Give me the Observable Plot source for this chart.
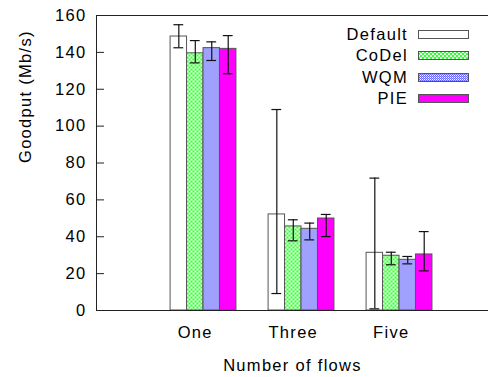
<!DOCTYPE html>
<html>
<head>
<meta charset="utf-8">
<script src="https://cdn.jsdelivr.net/npm/d3@7"></script>
<script src="https://cdn.jsdelivr.net/npm/@observablehq/plot@0.6"></script>
<style>
  body { margin: 0; background: white; }
  #wrap { position: relative; width: 488px; height: 377px; font-family: "Liberation Sans", Arial, sans-serif; }
  #legend { position: absolute; left: 0; top: 0; }
  .lrow { position: absolute; left: 290px; height: 21px; display: flex; align-items: center; }
  .lrow span { display: inline-block; width: 118px; text-align: right; font-size: 16.5px; letter-spacing: 1.3px; color: #000; }
  .lrow svg { margin-left: 10px; display: block; }
</style>
</head>
<body>
<div id="wrap"></div>
<script>
const groups = ["One", "Three", "Five"];
const series = ["Default", "CoDel", "WQM", "PIE"];
const goodputDefault = [148.6, 52.1, 31.3];
const goodputCoDel   = [139.5, 45.6, 29.7];
const goodputWQM     = [142.3, 44.3, 27.5];
const goodputPIE     = [141.9, 49.9, 30.4];
const lowDefault  = [142.5, 9.2, 0.9];
const highDefault = [155.0, 109.0, 71.8];
const lowCoDel    = [134.3, 37.8, 24.8];
const highCoDel   = [146.4, 49.2, 31.6];
const lowWQM      = [135.6, 38.3, 25.3];
const highWQM     = [145.7, 47.4, 29.3];
const lowPIE      = [128.4, 40.1, 21.5];
const highPIE     = [149.1, 52.1, 42.8];
const yTicks = [0, 20, 40, 60, 80, 100, 120, 140, 160];
const xLabel = "Number of flows";
const yLabel = "Goodput (Mb/s)";

const values = [goodputDefault, goodputCoDel, goodputWQM, goodputPIE];
const lows = [lowDefault, lowCoDel, lowWQM, lowPIE];
const highs = [highDefault, highCoDel, highWQM, highPIE];
const fills = ["white", "url(#pat-codel)", "url(#pat-wqm)", "#ff00ff"];
const legendFills = ["white", "url(#pat-codel-l)", "url(#pat-wqm-l)", "#ff00ff"];

const bw = 0.168;   // bar width in group units
const capHalf = 0.05;
const rows = [];
groups.forEach((g, gi) => series.forEach((s, si) => {
  const x1 = gi + (si - 2) * bw;
  rows.push({group: g, series: s, x1, x2: x1 + bw, xc: x1 + bw / 2,
             value: values[si][gi], lo: lows[si][gi], hi: highs[si][gi]});
}));
const labelRows = groups.map((g, gi) => ({label: g, x: gi - bw / 2}));
const xDomain = [-1.092, 2.908];

const svg = Plot.plot({
  width: 488,
  height: 377,
  marginLeft: 96,
  marginRight: 0,
  marginTop: 15,
  marginBottom: 67,
  style: {fontFamily: "Liberation Sans, Arial, sans-serif", fontSize: "16.5px", letterSpacing: "1.3px", color: "#000", background: "white"},
  x: {domain: xDomain, axis: null},
  y: {domain: [0, 160], axis: null},
  color: {domain: series, range: fills},
  marks: [
    Plot.rectY(rows, {x1: "x1", x2: "x2", y1: 0, y2: "value", fill: "series", stroke: "#555", strokeWidth: 1}),
    Plot.ruleX(rows, {x: "xc", y1: "lo", y2: "hi", stroke: "#111", strokeWidth: 1.2}),
    Plot.ruleY(rows, {y: "hi", x1: d => d.xc - capHalf, x2: d => d.xc + capHalf, stroke: "#111", strokeWidth: 1.2}),
    Plot.ruleY(rows, {y: "lo", x1: d => d.xc - capHalf, x2: d => d.xc + capHalf, stroke: "#111", strokeWidth: 1.2}),
    Plot.ruleY([0, 160], {stroke: "#222"}),
    Plot.ruleX([xDomain[0]], {stroke: "#222"}),
    Plot.axisY({ticks: yTicks, tickSize: -8, tickPadding: 18, tickFormat: d => String(d), stroke: "#222", fontSize: "16.5px"}),
    Plot.text(labelRows, {x: "x", text: "label", frameAnchor: "bottom", dy: 27, fill: "#000", fontSize: "16.5px"}),
    Plot.text([xLabel], {text: d => d, frameAnchor: "bottom", dy: 60, fill: "#000", fontSize: "16.5px"}),
    Plot.text([yLabel], {text: d => d, frameAnchor: "left", dx: -71, rotate: -90, fill: "#000", fontSize: "16.5px"})
  ]
});

const defs = d3.select(svg).insert("defs", ":first-child");
function addPatterns(suffix, shift) {
  const pc = defs.append("pattern").attr("id", "pat-codel" + suffix).attr("patternUnits", "userSpaceOnUse")
    .attr("width", 4).attr("height", 4).attr("patternTransform", `translate(${shift},${shift})`);
  pc.append("rect").attr("width", 4).attr("height", 4).attr("fill", "#33ff33");
  pc.append("circle").attr("cx", 1).attr("cy", 1).attr("r", 1.1).attr("fill", "white");
  pc.append("circle").attr("cx", 3).attr("cy", 3).attr("r", 1.1).attr("fill", "white");
  const pw = defs.append("pattern").attr("id", "pat-wqm" + suffix).attr("patternUnits", "userSpaceOnUse")
    .attr("width", 2).attr("height", 2).attr("patternTransform", `translate(${shift},${shift})`);
  pw.append("rect").attr("width", 2).attr("height", 2).attr("fill", "#6464ff");
  pw.append("rect").attr("width", 1).attr("height", 1).attr("fill", "white");
  pw.append("rect").attr("x", 1).attr("y", 1).attr("width", 1).attr("height", 1).attr("fill", "#b8b8ff");
}
addPatterns("", 0.5);
addPatterns("-l", 0);

const wrap = document.getElementById("wrap");
wrap.appendChild(svg);

const legend = document.createElement("div");
legend.id = "legend";
series.forEach((s, i) => {
  const row = document.createElement("div");
  row.className = "lrow";
  row.style.top = (24 + i * 21.3) + "px";
  row.innerHTML = `<span>${s}</span><svg width="51" height="9"><rect x="0.5" y="0.5" width="50" height="8" fill="${legendFills[i]}" stroke="#555"/></svg>`;
  legend.appendChild(row);
});
wrap.appendChild(legend);
</script>
</body>
</html>
